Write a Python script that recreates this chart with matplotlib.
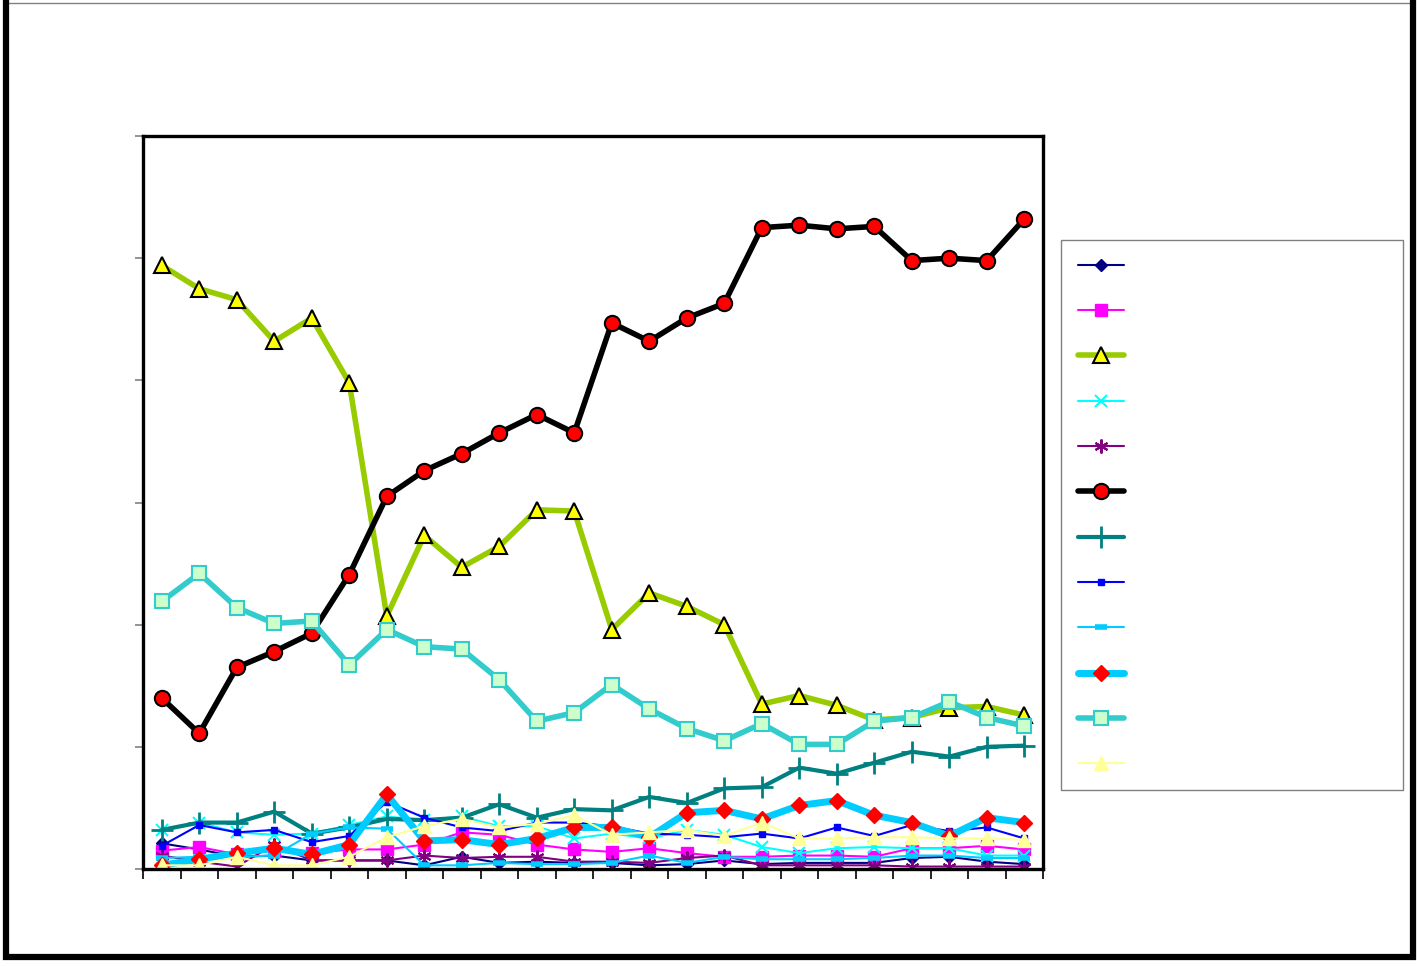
import numpy as np
import matplotlib
matplotlib.use("Agg")
import matplotlib.pyplot as plt
from matplotlib.lines import Line2D

# 24 periods, values (y range 0-60)
periods = np.arange(24)

navy_diamond = [2.1, 1.6, 1.0, 1.1, 0.7, 0.7, 0.7, 0.3, 1.0, 0.5, 0.6, 0.5,
                0.5, 0.3, 0.4, 0.7, 0.4, 0.5, 0.5, 0.5, 0.9, 1.0, 0.6, 0.4]
magenta_square = [1.5, 1.8, 1.2, 1.5, 1.3, 1.6, 1.6, 2.0, 3.0, 2.8, 2.0, 1.6,
                  1.4, 1.7, 1.3, 1.0, 1.0, 1.1, 1.1, 1.0, 1.7, 1.7, 1.9, 1.6]
green_triangle = [49.4, 47.5, 46.6, 43.2, 45.1, 39.8, 20.7, 27.3, 24.7, 26.4, 29.4, 29.3,
                  19.6, 22.6, 21.5, 20.0, 13.5, 14.2, 13.4, 12.2, 12.4, 13.2, 13.3, 12.6]
cyan_x = [3.2, 3.8, 3.0, 2.8, 2.9, 3.6, 4.3, 4.0, 4.3, 3.5, 3.5, 2.5,
          2.9, 2.5, 3.2, 2.8, 1.8, 1.3, 1.7, 1.8, 1.7, 1.7, 1.1, 1.1]
purple_star = [1.1, 0.6, 0.2, 2.0, 0.7, 0.7, 0.7, 1.1, 0.9, 1.0, 1.0, 0.6,
               0.6, 0.5, 0.9, 1.1, 0.3, 0.3, 0.3, 0.3, 0.2, 0.2, 0.2, 0.2]
black_circle = [14.0, 11.1, 16.5, 17.8, 19.3, 24.1, 30.5, 32.6, 34.0, 35.7, 37.2, 35.7,
                44.7, 43.2, 45.1, 46.3, 52.5, 52.7, 52.4, 52.6, 49.8, 50.0, 49.8, 53.2]
teal_plus = [3.2, 3.8, 3.8, 4.7, 2.9, 3.4, 4.1, 4.0, 4.2, 5.3, 4.2, 4.9,
             4.8, 5.9, 5.4, 6.6, 6.7, 8.3, 7.8, 8.7, 9.6, 9.2, 10.0, 10.1]
blue_dash = [1.9, 3.6, 3.0, 3.2, 2.2, 2.7, 5.5, 4.2, 3.4, 3.1, 3.8, 3.8,
             3.5, 2.9, 2.8, 2.6, 2.9, 2.5, 3.4, 2.7, 3.6, 3.1, 3.4, 2.5]
sky_dash = [0.9, 1.0, 1.0, 1.1, 2.9, 3.4, 3.3, 0.3, 0.3, 0.5, 0.4, 0.4,
            0.5, 1.1, 0.5, 1.0, 0.8, 0.8, 0.8, 0.9, 1.1, 1.1, 0.9, 0.9]
sky_diamond = [0.3, 0.8, 1.3, 1.7, 1.2, 2.0, 6.1, 2.3, 2.4, 2.0, 2.5, 3.4,
               3.4, 2.6, 4.6, 4.8, 4.1, 5.2, 5.6, 4.4, 3.8, 2.7, 4.2, 3.8]
turq_square = [21.9, 24.2, 21.4, 20.1, 20.3, 16.7, 19.6, 18.2, 18.0, 15.5, 12.1, 12.8,
               15.1, 13.1, 11.5, 10.5, 11.9, 10.2, 10.2, 12.1, 12.4, 13.7, 12.4, 11.7]
pale_triangle = [0.3, 0.3, 1.0, 0.3, 0.3, 1.0, 2.6, 3.5, 4.1, 3.4, 3.7, 4.4,
                 2.8, 3.0, 3.2, 2.7, 3.8, 2.5, 2.5, 2.6, 2.6, 2.5, 2.5, 2.4]

fig = plt.figure(figsize=(14.18, 9.66), dpi=100)
ax = fig.add_axes([143 / 1418, 97 / 966, 900 / 1418, 733 / 966])

styles = [
    (navy_diamond, dict(color='#000080', lw=1.5, marker='D', ms=6, mfc='#000080', mec='#000080')),
    (magenta_square, dict(color='#FF00FF', lw=1.5, marker='s', ms=8, mfc='#FF00FF', mec='#FF00FF')),
    (green_triangle, dict(color='#99CC00', lw=4, marker='^', ms=11, mfc='#FFFF00', mec='black', mew=1.5)),
    (cyan_x, dict(color='#00FFFF', lw=1.5, marker='x', ms=8, mew=1.5)),
    (purple_star, dict(color='#800080', lw=1.5, marker=(6, 2, 0), ms=10, mew=1.5)),
    (black_circle, dict(color='black', lw=4, marker='o', ms=11, mfc='#FF0000', mec='black', mew=1.5)),
    (teal_plus, dict(color='#008080', lw=3, marker='+', ms=16, mew=2)),
    (blue_dash, dict(color='#0000FF', lw=1.5, marker='s', ms=4, mfc='#0000FF', mec='#0000FF')),
    (sky_dash, dict(color='#00CCFF', lw=1.5, marker='_', ms=8, mew=4)),
    (sky_diamond, dict(color='#00CCFF', lw=5, marker='D', ms=8, mfc='#FF0000', mec='#FF0000')),
    (turq_square, dict(color='#33CCCC', lw=4, marker='s', ms=10, mfc='#CCFFCC', mec='#33CCCC', mew=1.5)),
    (pale_triangle, dict(color='#FFFF99', lw=1.5, marker='^', ms=10, mfc='#FFFF99', mec='#FFFF99')),
]

handles = []
for vals, kw in styles:
    line, = ax.plot(periods, vals, solid_capstyle='round', **kw)
    handles.append(line)

ax.set_xlim(-0.5, 23.5)
ax.set_ylim(0, 60)
ax.set_xticks(np.arange(-0.5, 24, 1))
ax.set_yticks(np.arange(0, 61, 10))
ax.set_xticklabels([])
ax.set_yticklabels([])
ax.tick_params(axis='x', direction='out', length=7, width=1.2, color='black')
ax.tick_params(axis='y', direction='out', length=6, width=1.2, color='gray')
for s in ax.spines.values():
    s.set_linewidth(2.4)
    s.set_color('black')

leg = fig.legend(handles, [' '] * len(handles), loc='upper left',
                 bbox_to_anchor=(1061 / 1418, 726 / 966 - 0.01, 342 / 1418, 0.01),
                 mode='expand', borderaxespad=0, fontsize=12,
                 handlelength=2.8, labelspacing=1.64, borderpad=1.0,
                 fancybox=False, framealpha=1)
leg.get_frame().set_edgecolor('gray')
leg.get_frame().set_linewidth(1)

# outer chart border: thin grey top, heavy black left/right/bottom
fig.add_artist(Line2D([6 / 1418, 1413 / 1418], [963.5 / 966, 963.5 / 966],
                      transform=fig.transFigure, color='gray', lw=1))
fig.add_artist(Line2D([6 / 1418, 6 / 1418, 1413 / 1418, 1413 / 1418],
                      [963.5 / 966, 9.5 / 966, 9.5 / 966, 963.5 / 966],
                      transform=fig.transFigure, color='black', lw=4.5,
                      solid_joinstyle='miter'))

fig.savefig('out.png', dpi=100)
